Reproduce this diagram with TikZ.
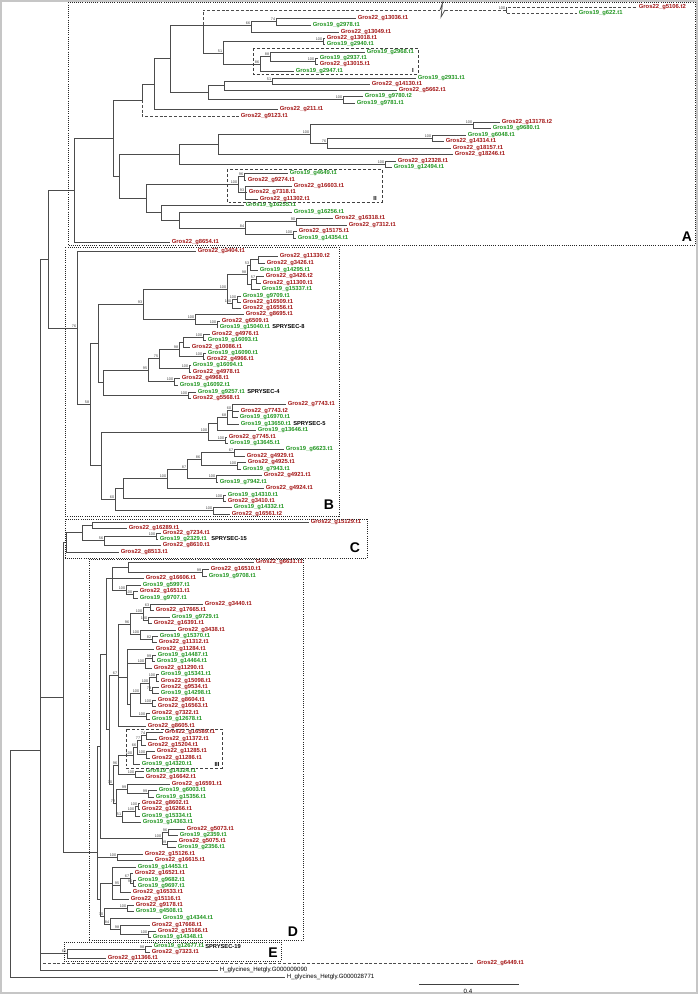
\documentclass[tikz,border=0pt]{standalone}
\usepackage{fontspec}
\setmainfont{Liberation Sans}
\definecolor{cR}{RGB}{163,22,22}
\definecolor{cG}{RGB}{34,150,34}
\tikzset{
 lf/.style={anchor=west, inner xsep=1.2pt, inner ysep=0pt, font=\fontsize{4.4}{5}\selectfont\bfseries},
 br/.style={draw=black!70, line width=0.55pt},
 dsh/.style={dash pattern=on 2.2pt off 1.4pt},
 bs/.style={anchor=south east, inner sep=0.15pt, font=\fontsize{2.8}{3}\selectfont, text=black!75},
 dbox/.style={draw=black!85, line width=0.6pt, densely dotted},
 ibox/.style={draw=black!75, line width=0.6pt, dash pattern=on 2.2pt off 1.5pt},
 boxlab/.style={font=\fontsize{10.5}{12}\selectfont\bfseries, anchor=center, inner sep=0pt},
 ilab/.style={font=\fontsize{4.4}{5}\selectfont\bfseries, anchor=center, inner sep=0pt},
 spry/.style={anchor=west, inner sep=0pt, font=\fontsize{4.3}{5}\selectfont\bfseries},
 hg/.style={anchor=west, inner xsep=1.2pt, inner ysep=0pt, font=\fontsize{4.6}{5}\selectfont},
}
\newcommand\leafR[4]{\node[lf,text=cR] (#1) at (#2-2,#3) {Gros22\_g#4};}
\newcommand\leafG[4]{\node[lf,text=cG] (#1) at (#2-2,#3) {Gros19\_g#4};}
\newcommand\inode[4]{\coordinate (#1) at (#2,#3); \node[bs] at ([xshift=-0.3pt,yshift=0.2pt]#1) {#4};}
\newcommand\brs[2]{\foreach \kid in {#2}{\draw[br] (#1) |- (\kid);}}
\begin{document}
\begin{tikzpicture}[x=0.75pt,y=-0.75pt]
\useasboundingbox (0,0) rectangle (698,994);
\draw[gray!45, line width=0.8pt] (1,1) rectangle (697,993);
% ---------------- leaves A
\leafR{r5106}{639}{7}{5106.t2}
\leafG{g622}{579}{13.5}{622.t1}
\leafR{r13036}{358}{18}{13036.t1}
\leafG{g2978}{313}{25}{2978.t1}
\leafR{r13049}{341}{32}{13049.t1}
\leafR{r13018}{327}{38}{13018.t1}
\leafG{g2940}{327}{44}{2940.t1}
\leafG{g2968}{367}{52}{2968.t1}
\leafG{g2937}{320}{58}{2937.t1}
\leafR{r13015}{320}{64}{13015.t1}
\leafG{g2947}{296}{71}{2947.t1}
\leafG{g2931}{418}{78}{2931.t1}
\leafR{r14130}{372}{84}{14130.t1}
\leafR{r5662}{399}{90}{5662.t1}
\leafG{g9780}{365}{96}{9780.t2}
\leafG{g9781}{357}{103}{9781.t1}
\leafR{r211}{280}{109}{211.t1}
\leafR{r9123}{241}{116}{9123.t1}
\leafR{r13178}{502}{122}{13178.t2}
\leafG{g9680}{493}{128}{9680.t1}
\leafG{g6048}{468}{135}{6048.t1}
\leafR{r14314}{446}{141}{14314.t1}
\leafR{r18157}{453}{148}{18157.t1}
\leafR{r18246}{455}{154}{18246.t1}
\leafR{r12328}{398}{161}{12328.t1}
\leafG{g12494}{394}{167}{12494.t1}
\leafG{g4649}{290}{173}{4649.t1}
\leafR{r9274}{248}{180}{9274.t1}
\leafR{r16603}{294}{186}{16603.t1}
\leafR{r7318}{249}{192}{7318.t1}
\leafR{r11302}{260}{199}{11302.t1}
\leafG{g16255}{246}{205}{16255.t1}
\leafG{g16256}{294}{212}{16256.t1}
\leafR{r16318}{335}{218}{16318.t1}
\leafR{r7312}{349}{225}{7312.t1}
\leafR{r15175}{299}{231}{15175.t1}
\leafG{g14354}{298}{238}{14354.t1}
\leafR{r8654}{172}{242}{8654.t1}
% ---------------- leaves B
\leafR{r3404}{198}{251}{3404.t1}
\leafR{r11330}{280}{256}{11330.t2}
\leafR{r3426a}{267}{263}{3426.t1}
\leafG{g14295}{260}{270}{14295.t1}
\leafR{r3426b}{266}{276}{3426.t2}
\leafR{r11300}{263}{283}{11300.t1}
\leafG{g15337}{262}{289}{15337.t1}
\leafG{g9709}{243}{296}{9709.t1}
\leafR{r16509}{243}{302}{16509.t1}
\leafR{r16556}{243}{308}{16556.t1}
\leafR{r8695}{246}{314}{8695.t1}
\leafR{r6509}{222}{321}{6509.t1}
\leafG{g15040}{220}{327}{15040.t1}
\leafR{r4976}{212}{334}{4976.t1}
\leafG{g16093}{208}{340}{16093.t1}
\leafR{r10086}{192}{347}{10086.t1}
\leafG{g16090}{208}{353}{16090.t1}
\leafR{r4966}{207}{359}{4966.t1}
\leafG{g16094}{193}{365}{16094.t1}
\leafR{r4978}{193}{372}{4978.t1}
\leafR{r4968}{182}{378}{4968.t1}
\leafG{g16092}{180}{385}{16092.t1}
\leafG{g9257}{198}{392}{9257.t1}
\leafR{r5568}{193}{398}{5568.t1}
\leafR{r7743a}{288}{404}{7743.t1}
\leafR{r7743b}{241}{411}{7743.t2}
\leafG{g16970}{240}{417}{16970.t1}
\leafG{g13650}{241}{424}{13650.t1}
\leafG{g13646}{258}{430}{13646.t1}
\leafR{r7745}{229}{437}{7745.t1}
\leafG{g13645}{230}{443}{13645.t1}
\leafG{g6623}{286}{449}{6623.t1}
\leafR{r4929}{247}{456}{4929.t1}
\leafR{r4925}{248}{462}{4925.t1}
\leafG{g7943}{243}{469}{7943.t1}
\leafR{r4921}{264}{475}{4921.t1}
\leafG{g7942}{220}{482}{7942.t1}
\leafR{r4924}{266}{488}{4924.t1}
\leafG{g14310}{228}{495}{14310.t1}
\leafR{r3410}{228}{501}{3410.t1}
\leafG{g14332}{234}{507}{14332.t1}
\leafR{r16561}{232}{514}{16561.t2}
% ---------------- leaves C
\leafR{r15129}{311}{522}{15129.t1}
\leafR{r16289}{129}{528}{16289.t1}
\leafR{r7234}{163}{533}{7234.t1}
\leafG{g2329}{160}{539}{2329.t1}
\leafR{r8610}{163}{545}{8610.t1}
\leafR{r8513}{121}{552}{8513.t1}
% ---------------- leaves D
\leafR{r6631}{256}{562}{6631.t1}
\leafR{r16510}{211}{569}{16510.t1}
\leafG{g9708}{209}{576}{9708.t1}
\leafR{r16606}{146}{578}{16606.t1}
\leafG{g5997}{143}{585}{5997.t1}
\leafR{r16511}{140}{591}{16511.t1}
\leafG{g9707}{140}{598}{9707.t1}
\leafR{r3440}{205}{604}{3440.t1}
\leafR{r17665}{156}{610}{17665.t1}
\leafG{g9729}{172}{617}{9729.t1}
\leafR{r16391}{154}{623}{16391.t1}
\leafR{r3438}{178}{630}{3438.t1}
\leafG{g15370}{160}{636}{15370.t1}
\leafR{r11312}{159}{642}{11312.t1}
\leafR{r11284}{156}{649}{11284.t1}
\leafG{g14487}{158}{655}{14487.t1}
\leafG{g14464}{157}{661}{14464.t1}
\leafR{r11290}{154}{668}{11290.t1}
\leafG{g15341}{161}{674}{15341.t1}
\leafR{r15098}{161}{681}{15098.t1}
\leafR{r9534}{161}{687}{9534.t1}
\leafG{g14298}{161}{693}{14298.t1}
\leafR{r8604}{158}{700}{8604.t1}
\leafR{r16563}{158}{706}{16563.t1}
\leafR{r7322}{152}{713}{7322.t1}
\leafG{g12678}{152}{719}{12678.t1}
\leafR{r8605}{148}{726}{8605.t1}
\leafR{r16589}{165}{732}{16589.t1}
\leafR{r11372}{159}{739}{11372.t1}
\leafR{r15204}{148}{745}{15204.t1}
\leafR{r11285}{157}{751}{11285.t1}
\leafR{r11286}{152}{758}{11286.t1}
\leafG{g14320}{142}{764}{14320.t1}
\leafG{g14324}{146}{771}{14324.t1}
\leafR{r16642}{146}{777}{16642.t1}
\leafR{r16591}{172}{784}{16591.t1}
\leafG{g6003}{159}{790}{6003.t1}
\leafG{g15356}{156}{797}{15356.t1}
\leafR{r8602}{142}{803}{8602.t1}
\leafR{r16266}{142}{809}{16266.t1}
\leafG{g15334}{142}{816}{15334.t1}
\leafG{g14363}{143}{822}{14363.t1}
\leafR{r5073}{187}{829}{5073.t1}
\leafG{g2359}{180}{835}{2359.t1}
\leafR{r5075}{179}{841}{5075.t1}
\leafG{g2356}{178}{847}{2356.t1}
\leafR{r15126}{145}{854}{15126.t1}
\leafR{r16615}{155}{860}{16615.t1}
\leafG{g14453}{138}{867}{14453.t1}
\leafR{r16521}{135}{873}{16521.t1}
\leafG{g9682}{138}{880}{9682.t1}
\leafG{g9697}{138}{886}{9697.t1}
\leafR{r16533}{133}{892}{16533.t1}
\leafR{r15116}{131}{899}{15116.t1}
\leafR{r9178}{136}{905}{9178.t1}
\leafG{g4508}{136}{911}{4508.t1}
\leafG{g14344}{163}{918}{14344.t1}
\leafR{r17668}{152}{925}{17668.t1}
\leafR{r15166}{158}{931}{15166.t1}
\leafG{g14348}{153}{937}{14348.t1}
% ---------------- leaves E and outgroup
\leafG{g12677}{154}{946.5}{12677.t1}
\leafR{r7323}{152}{952.5}{7323.t1}
\leafR{r11366}{108}{958}{11366.t1}
\leafR{r6449}{477}{963}{6449.t1}
\node[hg] (hG1) at (218,970) {H\_glycines\_Hetgly.G000009090};
\node[hg] (hG2) at (285,977) {H\_glycines\_Hetgly.G000028771};
% SPRYSEC labels
\node[spry] at (272,327) {SPRYSEC-8};
\node[spry] at (247,392) {SPRYSEC-4};
\node[spry] at (293,424) {SPRYSEC-5};
\node[spry] at (211,539) {SPRYSEC-15};
\node[spry] at (205,946.5) {SPRYSEC-19};
% ---------------- internal nodes A
\inode{nA7}{506}{10}{100}
\inode{nA9}{276}{21.5}{74}
\inode{nA8}{251}{25}{66}
\inode{nA11}{323}{41}{100}
\inode{nA14}{315}{61}{100}
\inode{nA13}{270}{56.5}{88}
\inode{nA12}{260}{64}{86}
\inode{nA10}{223}{53}{51}
\inode{nA6}{203}{25}{}
\inode{nA16a}{272}{81}{51}
\inode{nA16}{224}{85.5}{}
\inode{nA17}{343}{99.5}{100}
\inode{nA15}{208}{92.5}{}
\inode{nA5}{170}{58.75}{}
\inode{nA4}{154}{84}{}
\inode{nA3}{142}{100}{}
\inode{nA24}{473}{124.5}{100}
\inode{nA25a}{432}{138}{100}
\inode{nA25}{327}{143}{76}
\inode{nA23}{310}{134}{100}
\inode{nA22}{218}{144}{}
\inode{nA26}{385}{164}{100}
\inode{nA21}{179}{154}{}
\inode{nA32}{244}{176.5}{96}
\inode{nA33}{245}{192.5}{93}
\inode{nA31}{238}{184.5}{100}
\inode{nA38}{296}{221.5}{90}
\inode{nA39}{293}{234.5}{100}
\inode{nA37}{245}{228}{84}
\inode{nA36}{179}{220}{}
\inode{nA35}{161}{212.5}{}
\inode{nA30}{146}{198.5}{}
\inode{nA20}{119}{176}{}
\inode{nA2}{113}{138}{}
\inode{nA1}{74}{190}{}
\inode{nA0}{48}{259}{}
% ---------------- internal nodes B
\inode{nB6a}{258}{259.5}{}
\inode{nB6}{250}{265}{53}
\inode{nB6b}{256}{279.5}{57}
\inode{nB6c}{251}{284}{}
\inode{nB5}{247}{274.5}{98}
\inode{nB7a}{237}{299}{100}
\inode{nB7}{232}{303.5}{100}
\inode{nB4}{227}{289}{100}
\inode{nB9}{217}{324}{100}
\inode{nB8}{195}{319}{100}
\inode{nB3}{143}{304}{93}
\inode{nB15}{203}{337}{100}
\inode{nB14}{183}{342}{}
\inode{nB16}{203}{356}{100}
\inode{nB13}{179}{349}{98}
\inode{nB17}{189}{368.5}{100}
\inode{nB12}{159}{358.75}{75}
\inode{nB18}{174}{381.5}{100}
\inode{nB11}{148}{370}{95}
\inode{nB19}{188}{395}{100}
\inode{nB10}{103}{382.5}{}
\inode{nB2}{98}{343}{}
\inode{nB24}{232}{410}{60}
\inode{nB23}{227}{417}{68}
\inode{nB22}{217}{423.5}{}
\inode{nB25}{225}{440}{100}
\inode{nB21}{208}{432}{100}
\inode{nB34a}{234}{452.5}{67}
\inode{nB34b}{237}{465.5}{100}
\inode{nB34}{201}{459}{86}
\inode{nB34c}{216}{478.5}{100}
\inode{nB33}{187}{469}{87}
\inode{nB32}{167}{478.5}{100}
\inode{nB35}{223}{498}{100}
\inode{nB31}{123}{488}{}
\inode{nB36}{213}{510.5}{100}
\inode{nB30}{115}{499}{60}
\inode{nB20}{101}{465.5}{}
\inode{nB1}{90}{404}{58}
\inode{nB0}{77}{328}{76}
% ---------------- internal nodes C
\inode{nC4}{156}{536}{100}
\inode{nC3}{104}{540.5}{56}
\inode{nC2}{92}{525}{}
\inode{nC1}{82}{532.75}{}
\inode{nC}{66}{542}{}
% ---------------- internal nodes D
\inode{nD3}{202}{572.5}{99}
\inode{nD2}{128}{567}{}
\inode{nD6}{133}{594.5}{100}
\inode{nD5}{126}{590}{100}
\inode{nD1}{112}{578}{}
\inode{nD12a}{150}{607}{63}
\inode{nD12b}{148}{620}{100}
\inode{nD12}{143}{613.5}{100}
\inode{nD14a}{152}{639}{82}
\inode{nD14}{140}{634.5}{100}
\inode{nD11}{130}{624}{96}
\inode{nD16a}{152}{658}{99}
\inode{nD16}{145}{663}{100}
\inode{nD19a}{156}{677.5}{100}
\inode{nD19b}{152}{690}{79}
\inode{nD19}{149}{683.75}{100}
\inode{nD19c}{152}{703}{100}
\inode{nD18}{140}{693.4}{100}
\inode{nD20}{146}{716}{100}
\inode{nD17}{130}{704.7}{}
\inode{nD15}{127}{677}{}
\inode{nD10}{118}{675}{67}
\inode{nD23a}{146}{735.5}{74}
\inode{nD23}{141}{740}{77}
\inode{nD24}{146}{754.5}{100}
\inode{nD23b}{137}{747}{66}
\inode{nD22}{133}{755.5}{100}
\inode{nD25}{135}{774}{100}
\inode{nD21}{118}{765}{96}
\inode{nD27}{148}{793.5}{99}
\inode{nD26}{127}{789}{99}
\inode{nD28a}{138}{806}{100}
\inode{nD28}{135}{811}{100}
\inode{nD29}{122}{816.5}{51}
\inode{nD30}{116}{803}{72}
\inode{nD31}{113}{784}{70}
\inode{nDM}{109}{729}{}
\inode{nDU}{106}{654}{}
\inode{nD32a}{168}{832}{96}
\inode{nD32b}{167}{844}{99}
\inode{nD32}{162}{838}{100}
\inode{nDA}{100}{746}{}
\inode{nDL1}{117}{857}{100}
\inode{nE2}{133}{883}{96}
\inode{nE1}{130}{878}{67}
\inode{nE3}{120}{885}{95}
\inode{nE4}{112}{883}{}
\inode{nE5}{127}{908}{100}
\inode{nE6}{148}{934}{100}
\inode{nE7}{120}{929.5}{98}
\inode{nE8}{110}{924}{84}
\inode{nE9}{104}{916}{70}
\inode{nE10}{100}{899.5}{}
\inode{nDroot}{97}{852}{}
\inode{nCD}{63}{697}{}
\inode{nEc1}{145}{949.5}{98}
\inode{nEc}{67}{953.5}{65}
\inode{nI}{40}{750}{}
\inode{nR}{10}{863}{}
% ---------------- branches A
\brs{nA9}{r13036,g2978}
\brs{nA8}{nA9,r13049}
\brs{nA11}{r13018,g2940}
\brs{nA14}{g2937,r13015}
\brs{nA13}{g2968,nA14}
\brs{nA12}{nA13,g2947}
\brs{nA10}{nA11,nA12}
\brs{nA6}{nA8,nA10}
\coordinate (zz1) at (440,10);
\coordinate (zz2) at (445,10);
\draw[br,dsh] (nA6) |- (zz1);
\draw[br] (zz1) -- (442.5,3) -- (441,17) -- (zz2);
\draw[br,dsh] (zz2) -- (nA7);
\draw[br,dsh] (nA7) |- (r5106);
\draw[br,dsh] (nA7) |- (g622);
\brs{nA16a}{g2931,r14130}
\brs{nA16}{nA16a,r5662}
\brs{nA17}{g9780,g9781}
\brs{nA15}{nA16,nA17}
\brs{nA5}{nA6,nA15}
\brs{nA4}{nA5,r211}
\brs{nA3}{nA4}
\draw[br,dsh] (nA3) |- (r9123);
\brs{nA24}{r13178,g9680}
\brs{nA25a}{g6048,r14314}
\brs{nA25}{nA25a,r18157}
\brs{nA23}{nA24,nA25}
\brs{nA22}{nA23,r18246}
\brs{nA26}{r12328,g12494}
\brs{nA21}{nA22,nA26}
\brs{nA32}{g4649,r9274}
\brs{nA33}{r16603,r7318,r11302}
\brs{nA31}{nA32,nA33}
\brs{nA38}{r16318,r7312}
\brs{nA39}{r15175,g14354}
\brs{nA37}{nA38,nA39}
\brs{nA36}{g16256,nA37}
\brs{nA35}{g16255,nA36}
\brs{nA30}{nA31,nA35}
\brs{nA20}{nA21,nA30}
\brs{nA2}{nA3,nA20}
\brs{nA1}{nA2,r8654}
\brs{nA0}{nA1,nB0}
% ---------------- branches B
\brs{nB6a}{r11330,r3426a}
\brs{nB6}{nB6a,g14295}
\brs{nB6b}{r3426b,r11300}
\brs{nB6c}{nB6b,g15337}
\brs{nB5}{nB6,nB6c}
\brs{nB7a}{g9709,r16509}
\brs{nB7}{nB7a,r16556}
\brs{nB4}{nB5,nB7}
\brs{nB9}{r6509,g15040}
\brs{nB8}{r8695,nB9}
\brs{nB3}{nB4,nB8}
\brs{nB15}{r4976,g16093}
\brs{nB14}{nB15,r10086}
\brs{nB16}{g16090,r4966}
\brs{nB13}{nB14,nB16}
\brs{nB17}{g16094,r4978}
\brs{nB12}{nB13,nB17}
\brs{nB18}{r4968,g16092}
\brs{nB11}{nB12,nB18}
\brs{nB19}{g9257,r5568}
\brs{nB10}{nB11,nB19}
\brs{nB2}{nB3,nB10}
\brs{nB24}{r7743a,r7743b,g16970}
\brs{nB23}{nB24,g13650}
\brs{nB22}{nB23,g13646}
\brs{nB25}{r7745,g13645}
\brs{nB21}{nB22,nB25}
\brs{nB34a}{g6623,r4929}
\brs{nB34b}{r4925,g7943}
\brs{nB34}{nB34a,nB34b}
\brs{nB34c}{r4921,g7942}
\brs{nB33}{nB34,nB34c}
\brs{nB32}{nB33,r4924}
\brs{nB35}{g14310,r3410}
\brs{nB31}{nB32,nB35}
\brs{nB36}{g14332,r16561}
\brs{nB30}{nB31,nB36}
\brs{nB20}{nB21,nB30}
\brs{nB1}{nB2,nB20}
\brs{nB0}{r3404,nB1}
% ---------------- branches C
\brs{nC4}{r7234,g2329}
\brs{nC3}{nC4,r8610}
\brs{nC2}{r15129,r16289}
\brs{nC1}{nC2,nC3}
\brs{nC}{nC1,r8513}
% ---------------- branches D
\brs{nD3}{r16510,g9708}
\brs{nD2}{r6631,nD3}
\brs{nD6}{r16511,g9707}
\brs{nD5}{g5997,nD6}
\brs{nD1}{nD2,r16606,nD5}
\brs{nD12a}{r3440,r17665}
\brs{nD12b}{g9729,r16391}
\brs{nD12}{nD12a,nD12b}
\brs{nD14a}{g15370,r11312}
\brs{nD14}{r3438,nD14a}
\brs{nD11}{nD12,nD14}
\brs{nD16a}{g14487,g14464}
\brs{nD16}{nD16a,r11290}
\brs{nD19a}{g15341,r15098}
\brs{nD19b}{r9534,g14298}
\brs{nD19}{nD19a,nD19b}
\brs{nD19c}{r8604,r16563}
\brs{nD18}{nD19,nD19c}
\brs{nD20}{r7322,g12678}
\brs{nD17}{nD18,nD20}
\brs{nD15}{r11284,nD16,nD17}
\brs{nD10}{nD11,nD15,r8605}
\brs{nD23a}{r16589,r11372}
\brs{nD23}{nD23a,r15204}
\brs{nD24}{r11285,r11286}
\brs{nD23b}{nD23,nD24}
\brs{nD22}{nD23b,g14320}
\brs{nD25}{g14324,r16642}
\brs{nD21}{nD22,nD25}
\brs{nD27}{g6003,g15356}
\brs{nD26}{r16591,nD27}
\brs{nD28a}{r8602,r16266}
\brs{nD28}{nD28a,g15334}
\brs{nD29}{nD28,g14363}
\brs{nD30}{nD26,nD29}
\brs{nD31}{nD21,nD30}
\brs{nDM}{nD10,nD31}
\brs{nDU}{nD1,nDM}
\brs{nD32a}{r5073,g2359}
\brs{nD32b}{r5075,g2356}
\brs{nD32}{nD32a,nD32b}
\brs{nDA}{nDU,nD32}
\brs{nDL1}{r15126,r16615}
\brs{nE2}{g9682,g9697}
\brs{nE1}{r16521,nE2}
\brs{nE3}{nE1,r16533}
\brs{nE4}{g14453,nE3,r15116}
\brs{nE5}{r9178,g4508}
\brs{nE6}{r15166,g14348}
\brs{nE7}{r17668,nE6}
\brs{nE8}{g14344,nE7}
\brs{nE9}{nE5,nE8}
\brs{nE10}{nE4,nE9}
\brs{nDroot}{nDA,nDL1,nE10}
\brs{nCD}{nC,nDroot}
\brs{nEc1}{g12677,r7323}
\brs{nEc}{nEc1,r11366}
\brs{nI}{nA0,nCD,nEc,hG1}
\draw[br,dsh] (nI) |- (r6449);
\brs{nR}{nI,hG2}
% ---------------- clade boxes
\draw[dbox] (68,2.5) rectangle (695,245);
\draw[dbox] (65,247.5) rectangle (339,516);
\draw[dbox] (65,519) rectangle (367,558);
\draw[dbox] (89,559) rectangle (303,940.5);
\draw[dbox] (64,942) rectangle (281,961);
\node[boxlab] (labA) at (687,237) {A};
\node[boxlab] (labB) at (329,505) {B};
\node[boxlab] (labC) at (355,548) {C};
\node[boxlab] (labD) at (293,932) {D};
\node[boxlab] (labE) at (273,953) {E};
\draw[ibox] (253,48) rectangle (418,74);
\draw[ibox] (227,169) rectangle (382,202);
\draw[ibox] (126,729) rectangle (222,768);
\node[ilab] (labI) at (413,70) {I};
\node[ilab] (labII) at (375,198) {II};
\node[ilab] (labIII) at (217,764) {III};
% ---------------- scale bar
\coordinate (sb1) at (419,984);
\coordinate (sb2) at (519,984);
\draw[black!75, line width=0.6pt] (sb1) -- (sb2);
\node[font=\fontsize{4.6}{5}\selectfont, inner sep=0pt] (sbl) at (468,991.5) {0.4};
\end{tikzpicture}
\end{document}
